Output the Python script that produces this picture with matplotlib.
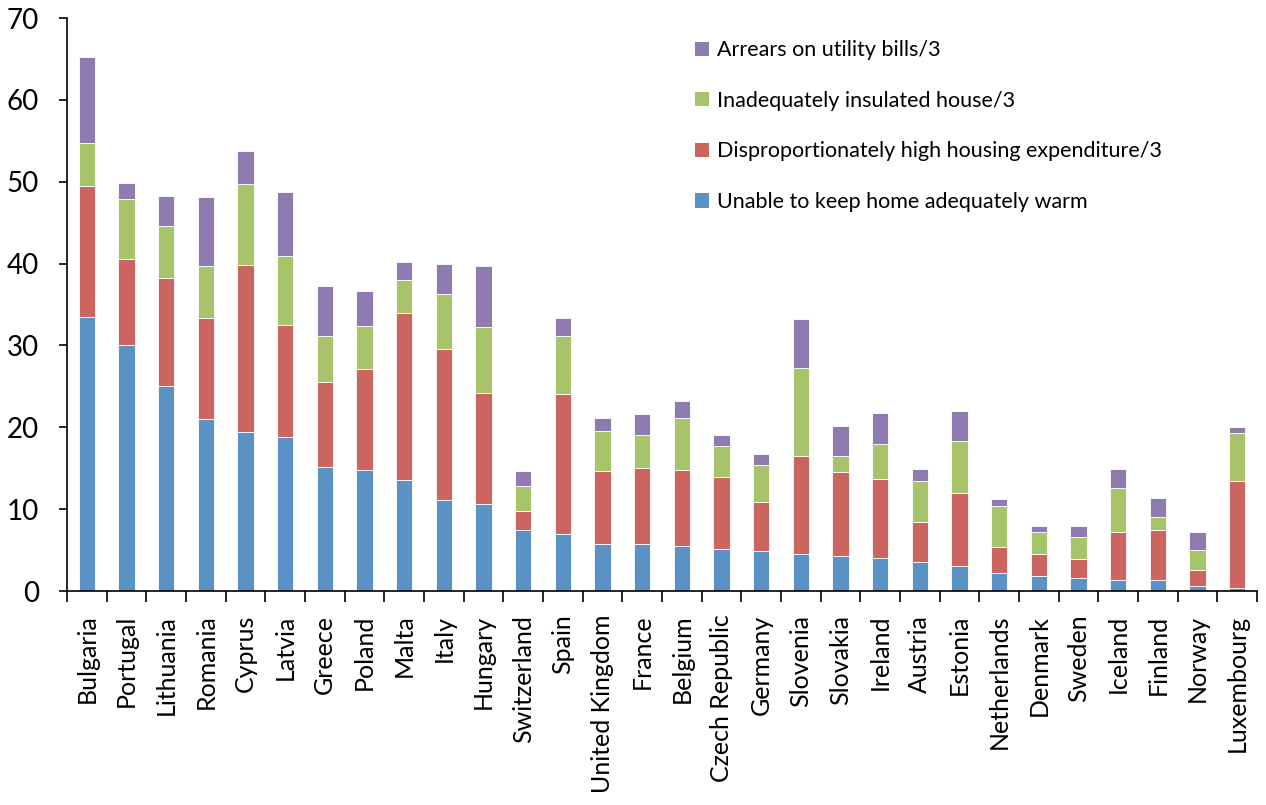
import numpy as np
import matplotlib.pyplot as plt
from matplotlib.patches import Patch

plt.rcParams['font.family'] = ['Lato', 'DejaVu Sans']

countries = ['Bulgaria', 'Portugal', 'Lithuania', 'Romania', 'Cyprus', 'Latvia', 'Greece',
             'Poland', 'Malta', 'Italy', 'Hungary', 'Switzerland', 'Spain', 'United Kingdom',
             'France', 'Belgium', 'Czech Republic', 'Germany', 'Slovenia', 'Slovakia', 'Ireland',
             'Austria', 'Estonia', 'Netherlands', 'Denmark', 'Sweden', 'Iceland', 'Finland',
             'Norway', 'Luxembourg']

warm = [33.5, 30.1, 25.0, 21.0, 19.4, 18.8, 15.2, 14.8, 13.6, 11.1, 10.6, 7.5, 6.95, 5.7,
        5.7, 5.5, 5.1, 4.9, 4.55, 4.3, 4.0, 3.6, 3.05, 2.25, 1.8, 1.6, 1.3, 1.3, 0.6, 0.4]
expend = [16.0, 10.5, 13.3, 12.3, 20.4, 13.7, 10.3, 12.3, 20.4, 18.5, 13.6, 2.3, 17.1, 8.95,
          9.3, 9.3, 8.8, 6.0, 11.95, 10.2, 9.7, 4.85, 8.95, 3.15, 2.75, 2.35, 5.9, 6.2, 2.0, 13.1]
insul = [5.2, 7.3, 6.3, 6.4, 9.9, 8.4, 5.6, 5.3, 4.0, 6.7, 8.1, 3.0, 7.15, 4.95,
         4.1, 6.3, 3.85, 4.5, 10.8, 2.0, 4.3, 4.95, 6.3, 5.0, 2.65, 2.65, 5.4, 1.5, 2.4, 5.8]
arrears = [10.5, 1.9, 3.7, 8.4, 4.0, 7.8, 6.2, 4.2, 2.2, 3.7, 7.4, 1.85, 2.15, 1.5,
           2.5, 2.1, 1.35, 1.3, 5.9, 3.7, 3.75, 1.5, 3.7, 0.8, 0.8, 1.4, 2.3, 2.4, 2.2, 0.7]

labels = ['Unable to keep home adequately warm',
          'Disproportionately high housing expenditure/3',
          'Inadequately insulated house/3',
          'Arrears on utility bills/3']
colors = ['#5B92C6', '#CC6560', '#A8C46A', '#8E7BAF']

fig = plt.figure(figsize=(12.66, 8.05), dpi=100)
ax = fig.add_axes([0.0529, 0.2658, 0.9400, 0.7118])

x = np.arange(len(countries))
bottom = np.zeros(len(countries))
for vals, col in zip([warm, expend, insul, arrears], colors):
    ax.bar(x, vals, 0.41, bottom=bottom, color=col, edgecolor='white', linewidth=0.6)
    bottom += np.array(vals)

ax.set_xlim(-0.5, len(countries) - 0.5)
ax.set_ylim(0, 70)
ax.set_yticks(range(0, 71, 10))
ax.tick_params(axis='y', labelsize=20, length=6, width=1.2, direction='out', pad=14)

ax.set_xticks(x)
ax.set_xticklabels(countries, rotation=90, fontsize=18)
ax.tick_params(axis='x', which='major', length=0, pad=17)
ax.set_xticks(np.arange(-0.5, len(countries)), minor=True)
ax.tick_params(axis='x', which='minor', length=8, width=1.2, direction='out')

for s in ['top', 'right']:
    ax.spines[s].set_visible(False)
for s in ['left', 'bottom']:
    ax.spines[s].set_linewidth(1.2)

handles = [Patch(facecolor=c) for c in colors][::-1]
ax.legend(handles, labels[::-1], loc='upper left', bbox_to_anchor=(0.5185, 0.98),
          frameon=False, fontsize=15.5, handlelength=0.65, handleheight=0.65,
          labelspacing=1.42, handletextpad=0.4, borderpad=0)

fig.savefig('out.png', dpi=100)
